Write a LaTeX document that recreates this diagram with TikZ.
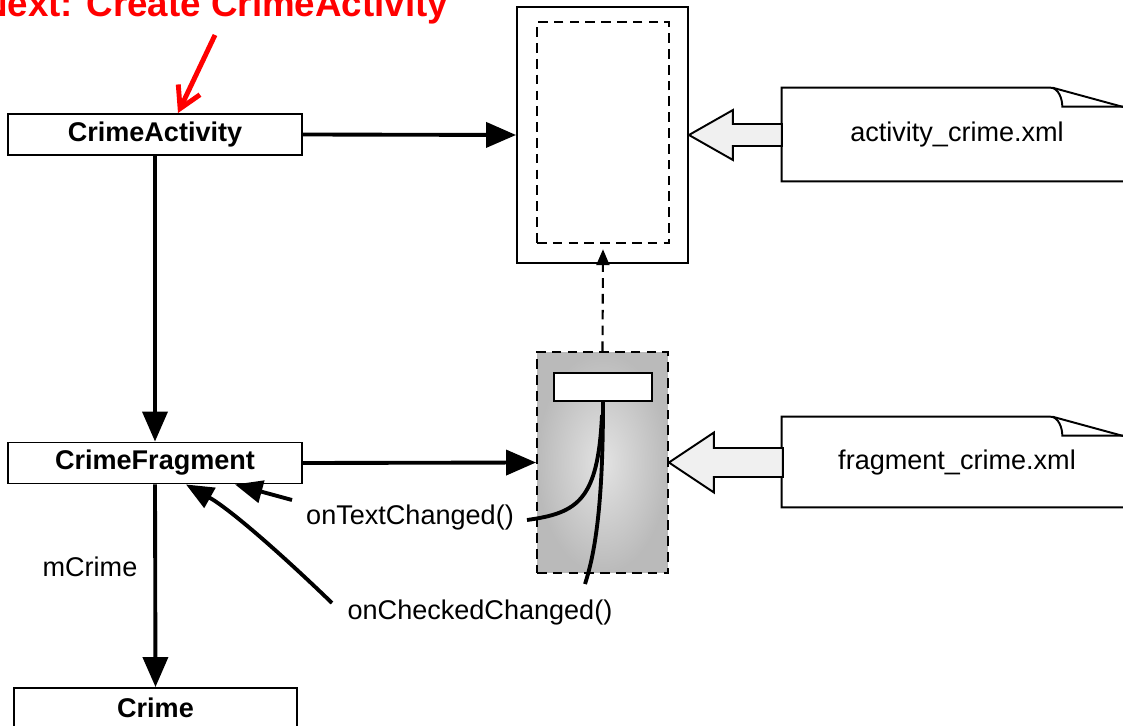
\documentclass[tikz,border=0pt]{standalone}
\usepackage{fontspec}
\setmainfont{Liberation Sans}
\usetikzlibrary{arrows.meta,calc}

\tikzset{
  classbox/.style={draw,line width=1.1pt,fill=white,minimum width=5.88cm,minimum height=0.82cm,
    inner sep=0pt,font=\fontsize{15.4}{18}\selectfont\bfseries},
  lbl/.style={inner sep=0pt,font=\fontsize{15.4}{18}\selectfont},
  mainarrow/.style={line width=2.2pt,-{Triangle[length=0.6cm,width=0.5cm]}},
  callarrow/.style={line width=2.2pt,-{Triangle[length=0.55cm,width=0.45cm]}},
  dasharrow/.style={line width=1.2pt,dash pattern=on 5.5pt off 3.5pt,-{Triangle[length=0.32cm,width=0.26cm]}},
  fatarrow/.style={draw,line width=1.1pt,fill=gray!12,line join=miter},
  docline/.style={line width=1.1pt},
  wire/.style={line width=2.2pt}
}

\newcommand\xmloutline[1]{%
  \draw[docline] (#1.south east) -- (#1.south west) -- (#1.north west)
    -- ($(#1.north east)+(-90,0)$) .. controls +(8,0) and +(0,-8) .. ($(#1.north east)+(-78,19)$)
    -- ($(#1.north east)+(0,19)$);
  \draw[docline] ($(#1.north east)+(-88,0)$) -- ($(#1.north east)+(0,24)$);}

\begin{document}
\begin{tikzpicture}[x=0.02cm,y=-0.02cm]
\useasboundingbox (0,0) rectangle (1123,726);
\clip (0,0) rectangle (1123,726);

% classes
\node[classbox] (act) at (155,134.5) {CrimeActivity};
\node[classbox] (frag) at (155,463) {CrimeFragment};
\node[classbox,minimum width=5.66cm,minimum height=0.8cm] (crime) at (155.5,708) {Crime};

% screen and layout
\node[draw,line width=1.1pt,fill=white,minimum width=3.42cm,minimum height=5.12cm,inner sep=0pt] (screen) at (602.5,135) {};
\node[draw,line width=1.1pt,dash pattern=on 5.5pt off 3.5pt,minimum width=2.64cm,minimum height=4.42cm,inner sep=0pt] (slot) at (603,132.5) {};
\node[draw,line width=1.1pt,dash pattern=on 5.5pt off 3.5pt,shading=radial,inner color=black!11,outer color=black!27,
  minimum width=2.62cm,minimum height=4.42cm,inner sep=0pt] (layout) at (602.5,462.5) {};
\node[draw,line width=1.1pt,fill=white,minimum width=1.96cm,minimum height=0.56cm,inner sep=0pt] (field) at (603,387) {};
\draw[wire] (field.south) .. controls (603,500) and (596,550) .. (585,584);
\coordinate (tcEnd) at (527,520);
\draw[wire] (602,415) .. controls (598,500) and (578,513) .. (tcEnd);

% xml files
\node[minimum width=7.16cm,minimum height=1.86cm,inner sep=0pt] (actxml) at (961,134.5) {};
\node[lbl] at (957,135) {activity\_crime.xml};
\xmloutline{actxml}
\node[minimum width=7.16cm,minimum height=1.8cm,inner sep=0pt] (fragxml) at (961,462) {};
\node[lbl] at (957,463) {fragment\_crime.xml};
\xmloutline{fragxml}

\draw[fatarrow] (screen.east) -- ++(44,-25) -- ++(0,14) -- ++(49,0) -- ++(0,22) -- ++(-49,0) -- ++(0,14) -- cycle;
\draw[fatarrow] (layout.east) -- ++(45,-30) -- ++(0,15.5) -- ++(69,0) -- ++(0,29) -- ++(-69,0) -- ++(0,15.5) -- cycle;

% labels
\node[lbl] (mcrime) at (90,567) {mCrime};
\node[lbl] (txtlbl) at (410,518) {onTextChanged()};
\node[lbl] (chklbl) at (480,613) {onCheckedChanged()};

% arrows
\draw[mainarrow] (act.east) -- (screen.west);
\draw[mainarrow] (act.south) -- (frag.north);
\draw[mainarrow] (frag.east) -- (layout.west);
\draw[mainarrow] (frag.south) -- (crime.north);
\draw[dasharrow] (layout.north) -- ([yshift=-3pt]slot.south);
\coordinate (tcTail) at (292,500);
\draw[callarrow] (tcTail) -- ($(frag.south)+(80,0)$);
\coordinate (ccTail) at (332,603);
\draw[callarrow] (ccTail) .. controls (275,548) and (228,508) .. ($(frag.south)+(31,0)$);

% note
\node[anchor=base west,inner sep=0pt,text=red,font=\fontsize{20.9}{24}\selectfont\bfseries] (note) at (-19,17) {Next: Create CrimeActivity};
\coordinate (noteTail) at (215,35);
\draw[red,line width=2.8pt,-{Straight Barb[length=0.42cm,width=0.48cm]}] (noteTail) -- ($(act.north)+(23,0)$);
\end{tikzpicture}
\end{document}
